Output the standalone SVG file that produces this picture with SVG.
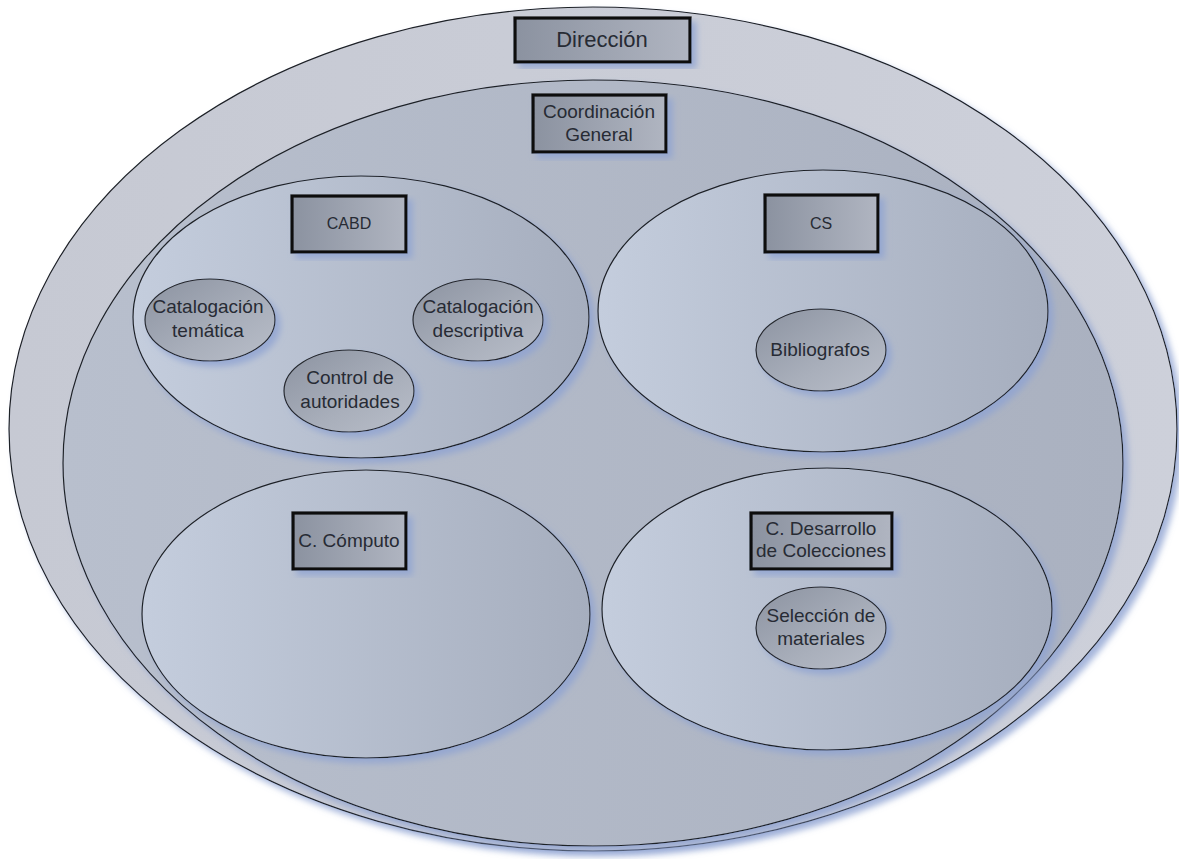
<svg xmlns="http://www.w3.org/2000/svg" width="1179" height="859" viewBox="0 0 1179 859">
<defs>
<filter id="sh" x="-10%" y="-10%" width="125%" height="125%">
<feGaussianBlur in="SourceAlpha" stdDeviation="3"/>
<feOffset dx="5" dy="5" result="b"/>
<feFlood flood-color="#8fa3d2" flood-opacity="0.8"/>
<feComposite in2="b" operator="in"/>
<feMerge><feMergeNode/><feMergeNode in="SourceGraphic"/></feMerge>
</filter>
<linearGradient id="gOuter" x1="0" y1="0" x2="1" y2="0">
<stop offset="0" stop-color="#c6c9d3"/><stop offset="1" stop-color="#cdd0da"/>
</linearGradient>
<linearGradient id="gInner" x1="0" y1="0" x2="1" y2="0">
<stop offset="0" stop-color="#b8bfcd"/><stop offset="1" stop-color="#aab1c0"/>
</linearGradient>
<linearGradient id="gSub" x1="0" y1="0" x2="1" y2="0">
<stop offset="0" stop-color="#c4cddd"/><stop offset="1" stop-color="#a6aebe"/>
</linearGradient>
<linearGradient id="gSmall" x1="0" y1="0" x2="1" y2="1">
<stop offset="0" stop-color="#8c93a1"/><stop offset="0.6" stop-color="#a9afbb"/><stop offset="1" stop-color="#b9bec9"/>
</linearGradient>
<linearGradient id="gBox" x1="0" y1="0" x2="1" y2="0">
<stop offset="0" stop-color="#8b92a0"/><stop offset="1" stop-color="#b0b5c1"/>
</linearGradient>
</defs>
<style>
.ell{stroke:#1e2127;stroke-width:1.2}
.box{fill:url(#gBox);stroke:#0d0d0d;stroke-width:3.2}
.sm{fill:url(#gSmall);stroke:#25282e;stroke-width:1.2}
text{font-family:"Liberation Sans",Arial,sans-serif;fill:#272b34;text-anchor:middle}
.t19{font-size:19px}
.t15{font-size:16px}
.t22{font-size:22px}
</style>

<g id="direccion">
<ellipse class="ell" cx="593" cy="429" rx="584" ry="422" fill="url(#gOuter)" filter="url(#sh)"/>
<rect class="box" x="515" y="18" width="175" height="44" filter="url(#sh)"/>
<text class="t22" x="602" y="47">Dirección</text>
</g>

<g id="coordinacion-general">
<ellipse class="ell" cx="593" cy="463" rx="530" ry="383" fill="url(#gInner)" filter="url(#sh)"/>
<rect class="box" x="533" y="95" width="133" height="57" filter="url(#sh)"/>
<text class="t19" x="599" y="118">Coordinación</text>
<text class="t19" x="599" y="141">General</text>
</g>

<g id="cabd">
<ellipse class="ell" cx="361" cy="317" rx="228" ry="141" fill="url(#gSub)" filter="url(#sh)"/>
<rect class="box" x="292" y="196" width="114" height="56" filter="url(#sh)"/>
<text class="t15" x="349" y="229">CABD</text>
</g>

<g id="cs">
<ellipse class="ell" cx="823" cy="311" rx="225" ry="141" fill="url(#gSub)" filter="url(#sh)"/>
<rect class="box" x="765" y="195" width="113" height="57" filter="url(#sh)"/>
<text class="t15" x="821" y="229">CS</text>
</g>

<g id="c-computo">
<ellipse class="ell" cx="366" cy="614" rx="224" ry="144" fill="url(#gSub)" filter="url(#sh)"/>
<rect class="box" x="293" y="513" width="113" height="56" filter="url(#sh)"/>
<text class="t19" x="349" y="547">C. Cómputo</text>
</g>

<g id="c-desarrollo">
<ellipse class="ell" cx="827" cy="609" rx="225" ry="141" fill="url(#gSub)" filter="url(#sh)"/>
<rect class="box" x="751" y="513" width="141" height="56" filter="url(#sh)"/>
<text class="t19" x="821" y="535">C. Desarrollo</text>
<text class="t19" x="821" y="557">de Colecciones</text>
</g>

<g id="catalogacion-tematica">
<ellipse class="sm" cx="210" cy="320" rx="65" ry="41" filter="url(#sh)"/>
<text class="t19" x="208" y="313">Catalogación</text>
<text class="t19" x="208" y="337">temática</text>
</g>

<g id="catalogacion-descriptiva">
<ellipse class="sm" cx="478" cy="320" rx="65" ry="41" filter="url(#sh)"/>
<text class="t19" x="478" y="313">Catalogación</text>
<text class="t19" x="478" y="337">descriptiva</text>
</g>

<g id="control-autoridades">
<ellipse class="sm" cx="349" cy="391" rx="65" ry="41" filter="url(#sh)"/>
<text class="t19" x="350" y="384">Control de</text>
<text class="t19" x="350" y="408">autoridades</text>
</g>

<g id="bibliografos">
<ellipse class="sm" cx="821" cy="350" rx="65" ry="41" filter="url(#sh)"/>
<text class="t19" x="820" y="356">Bibliografos</text>
</g>

<g id="seleccion-materiales">
<ellipse class="sm" cx="821" cy="628" rx="65" ry="41" filter="url(#sh)"/>
<text class="t19" x="821" y="622">Selección de</text>
<text class="t19" x="821" y="645">materiales</text>
</g>

<g id="connectors"></g>
</svg>
